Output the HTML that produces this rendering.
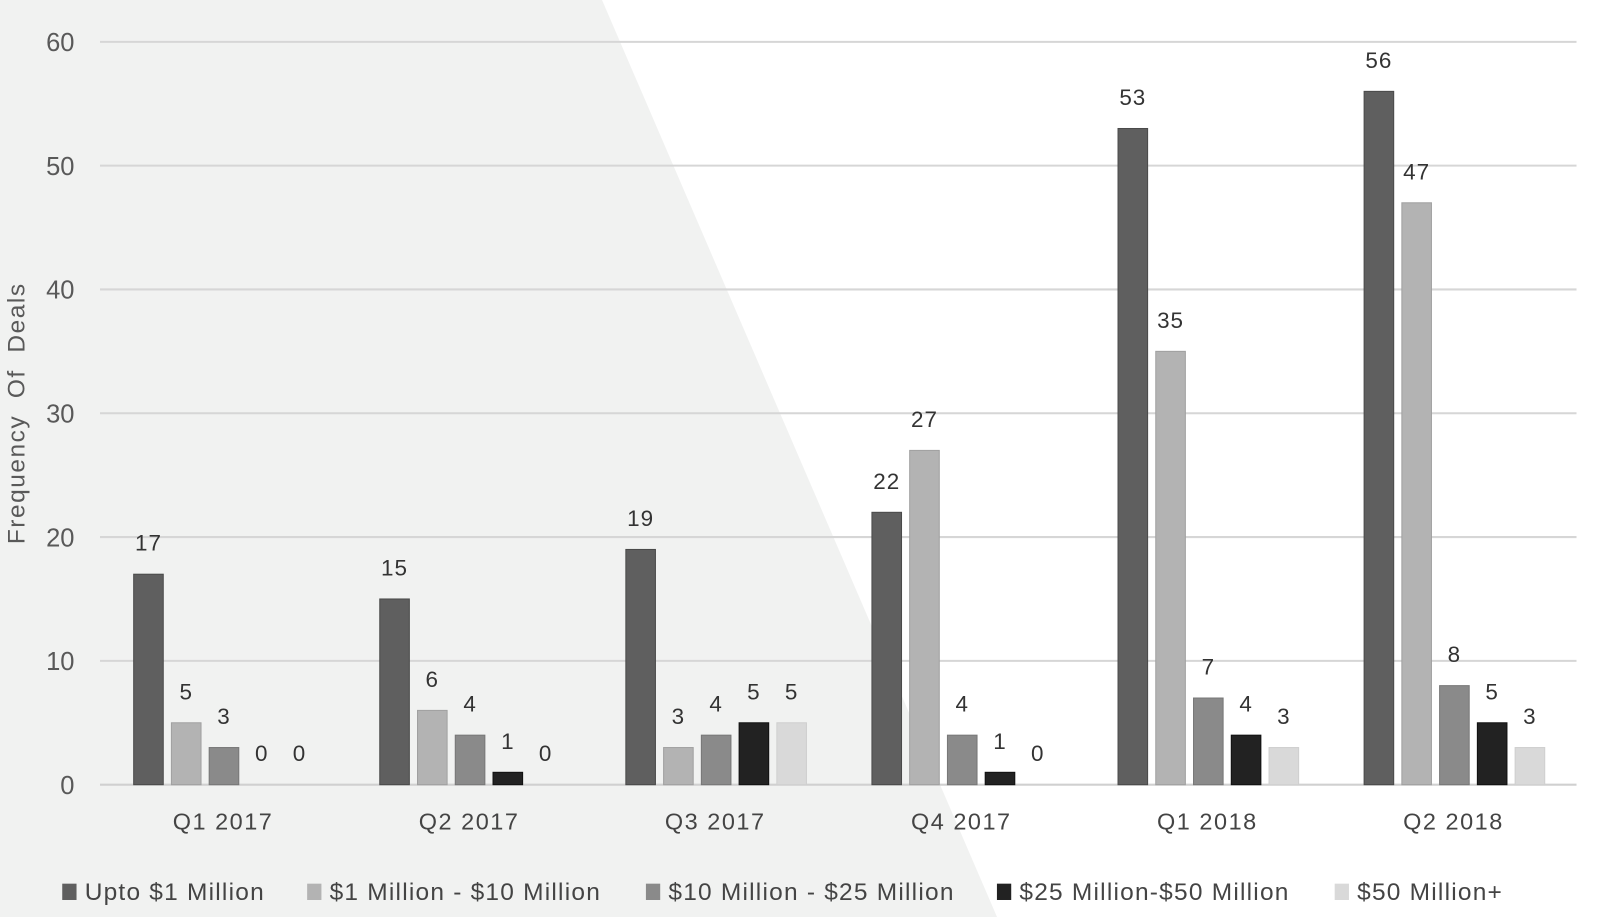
<!DOCTYPE html>
<html><head><meta charset="utf-8"><style>
html,body{margin:0;padding:0;background:#fff;overflow:hidden;}
svg{display:block;font-family:"Liberation Sans",sans-serif;}
</style></head><body>
<svg id="chart" width="1600" height="917" viewBox="0 0 1600 917">
<g transform="scale(1.0204)">
<polygon points="0,0 590,0 985,917 0,917" fill="#f1f2f1"/>
<g id="grid"></g><g id="bars"></g><g id="labels"></g><g id="xlabels"></g>
<text transform="translate(24,405) rotate(-90)" text-anchor="middle" font-size="24" letter-spacing="1.5" fill="#595959" xml:space="preserve">Frequency  Of  Deals</text>
<g id="legend"></g>
</g>
</svg>
<script>
const categories=["Q1 2017","Q2 2017","Q3 2017","Q4 2017","Q1 2018","Q2 2018"];
const seriesNames=["Upto $1 Million","$1 Million - $10 Million","$10 Million - $25 Million","$25 Million-$50 Million","$50 Million+"];
const upto1=[17,15,19,22,53,56];
const m1to10=[5,6,3,27,35,47];
const m10to25=[3,4,4,4,7,8];
const m25to50=[0,1,5,1,4,5];
const m50plus=[0,0,5,0,3,3];
const yTicks=[0,10,20,30,40,50,60];
const series=[upto1,m1to10,m10to25,m25to50,m50plus];
const colors=["#5f5f5f","#b3b3b3","#8a8a8a","#222222","#d9d9d9"];
const strokes=["#4a4a4a","#a0a0a0","#777777","#111111","#cfcfcf"];
const NS="http://www.w3.org/2000/svg";
const x0=98,x1=1545,y0=769,yTop=41;
const y=v=>y0-(v/60)*(y0-yTop);
const gw=(x1-x0)/categories.length;
function mk(t,a,p){const e=document.createElementNS(NS,t);for(const k in a)e.setAttribute(k,a[k]);p.appendChild(e);return e;}
const grid=document.getElementById('grid');
yTicks.forEach(t=>{
 const l=mk('line',{x1:x0,x2:x1,y1:y(t),y2:y(t),stroke:t===0?'#d0d0d0':'#d6d6d6','stroke-width':2},grid);
 
 
 const tx=mk('text',{x:73,y:y(t)+9,'text-anchor':'end','font-size':25,fill:'#595959'},grid);
 tx.textContent=t;
 
 
});
const bars=document.getElementById('bars'),labels=document.getElementById('labels'),xl=document.getElementById('xlabels');
categories.forEach((c,i)=>{
 const gx=x0+i*gw+33;
 series.forEach((s,j)=>{
  const bx=gx+j*37,v=s[i];
  if(v>0){
   const r=mk('rect',{x:bx,y:y(v),width:29,height:y0-y(v),fill:colors[j],stroke:strokes[j],'stroke-width':1},bars);
   
   
  }
  const t=mk('text',{x:bx+14.5,y:y(v)-23,'text-anchor':'middle','font-size':22,'letter-spacing':1,fill:'#333'},labels);
  t.textContent=v;
  
  
 });
 const t=mk('text',{x:x0+i*gw+gw/2,y:813,'text-anchor':'middle','font-size':23,'letter-spacing':1.5,fill:'#444'},xl);
 t.textContent=c;
 
 
});
const lg=document.getElementById('legend');
const lx=[61,301,633,977,1308];
seriesNames.forEach((n,j)=>{
 const g=mk('g',{},lg);
 
 
 mk('rect',{x:lx[j],y:866,width:14,height:16,fill:colors[j]},g);
 const t=mk('text',{x:lx[j]+22,y:882,'font-size':24,'letter-spacing':1.2,fill:'#444'},g);
 t.textContent=n;
});
</script>
</body></html>
